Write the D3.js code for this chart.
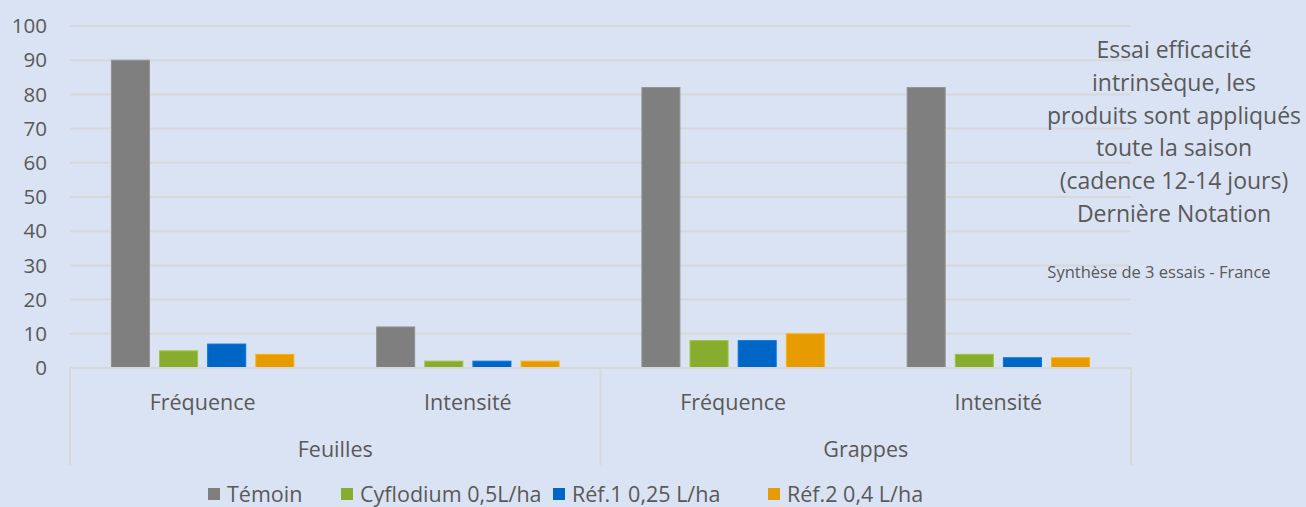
<!DOCTYPE html>
<html lang="fr">
<head>
  <meta charset="UTF-8" />
  <title>Essai efficacité intrinsèque</title>
  <script src="https://d3js.org/d3.v7.min.js"></script>
  <style>
    html, body { margin: 0; padding: 0; background: #dae3f3; }
    svg { display: block; font-family: "Open Sans", sans-serif; }
    .txt { fill: #595959; }
  </style>
</head>
<body>
  <div id="chart"></div>

  <script>
    // Données
    const groupes = ["Feuilles", "Grappes"];
    const sousCategories = ["Fréquence", "Intensité"];
    const series = ["Témoin", "Cyflodium 0,5L/ha", "Réf.1 0,25 L/ha", "Réf.2 0,4 L/ha"];
    const couleurs = ["#7f7f7f", "#88ac2d", "#0066c6", "#e69b00"];
    // une ligne par série, dans l'ordre : Feuilles/Fréquence, Feuilles/Intensité, Grappes/Fréquence, Grappes/Intensité
    const temoin = [90, 12, 82, 82];
    const cyflodium = [5, 2, 8, 4];
    const ref1 = [7, 2, 8, 3];
    const ref2 = [4, 2, 10, 3];
    const valeurs = [temoin, cyflodium, ref1, ref2];
    const ticksY = [0, 10, 20, 30, 40, 50, 60, 70, 80, 90, 100];

    const annotation = [
      "Essai efficacité",
      "intrinsèque, les",
      "produits sont appliqués",
      "toute la saison",
      "(cadence 12-14 jours)",
      "Dernière Notation"
    ];
    const sousAnnotation = "Synthèse de 3 essais - France";

    const width = 1306, height = 507;
    const margin = { left: 70, right: 1131, top: 26, bottom: 368 };

    const svg = d3.select("#chart").append("svg")
      .attr("width", width)
      .attr("height", height);

    // clés des 4 colonnes
    const colonnes = [];
    groupes.forEach(g => sousCategories.forEach(s => colonnes.push(g + "|" + s)));

    const y = d3.scaleLinear().domain([0, 100]).range([margin.bottom, margin.top]);
    const x0 = d3.scaleBand().domain(colonnes).range([margin.left, margin.right]);
    const x1 = d3.scaleBand().domain(series)
      .range([0, x0.bandwidth()])
      .paddingInner(0.21)
      .paddingOuter(0.86);
    const xg = d3.scaleBand().domain(groupes).range([margin.left, margin.right]);

    // Grille
    svg.append("g").selectAll("line")
      .data(ticksY)
      .enter().append("line")
      .attr("x1", margin.left).attr("x2", margin.right)
      .attr("y1", d => y(d)).attr("y2", d => y(d))
      .attr("stroke", "#d6d8dc")
      .attr("stroke-width", 2);

    // Labels Y
    svg.append("g").selectAll("text")
      .data(ticksY)
      .enter().append("text")
      .attr("class", "txt")
      .attr("x", 47)
      .attr("y", d => y(d))
      .attr("dy", "0.35em")
      .attr("text-anchor", "end")
      .style("font-size", "20.5px")
      .text(d => d);

    // Barres
    const barres = [];
    series.forEach((s, i) => {
      colonnes.forEach((c, j) => barres.push({ serie: s, col: c, value: valeurs[i][j], color: couleurs[i] }));
    });

    svg.append("g").selectAll("rect")
      .data(barres)
      .enter().append("rect")
      .attr("x", d => x0(d.col) + x1(d.serie))
      .attr("y", d => y(d.value))
      .attr("width", x1.bandwidth())
      .attr("height", d => y(0) - y(d.value))
      .attr("fill", d => d.color)
      .attr("stroke", d => d3.color(d.color).brighter(0.4))
      .attr("stroke-width", 1);

    // Axe catégories (multi-niveaux)
    const axe = svg.append("g").attr("stroke", "#d6d8dc").attr("stroke-width", 2);
    axe.append("line")
      .attr("x1", margin.left).attr("x2", margin.right)
      .attr("y1", margin.bottom).attr("y2", margin.bottom);
    const separateurs = groupes.map(g => xg(g)).concat([margin.right]);
    axe.selectAll("line.sep")
      .data(separateurs)
      .enter().append("line")
      .attr("class", "sep")
      .attr("x1", d => d).attr("x2", d => d)
      .attr("y1", margin.bottom).attr("y2", 465);

    svg.append("g").selectAll("text")
      .data(colonnes)
      .enter().append("text")
      .attr("class", "txt")
      .attr("x", d => x0(d) + x0.bandwidth() / 2)
      .attr("y", 402)
      .attr("dy", "0.35em")
      .attr("text-anchor", "middle")
      .style("font-size", "21.5px")
      .text(d => d.split("|")[1]);

    svg.append("g").selectAll("text")
      .data(groupes)
      .enter().append("text")
      .attr("class", "txt")
      .attr("x", d => xg(d) + xg.bandwidth() / 2)
      .attr("y", 449)
      .attr("dy", "0.35em")
      .attr("text-anchor", "middle")
      .style("font-size", "21.5px")
      .text(d => d);

    // Légende
    const legendePos = [208, 341, 553, 768];
    const legende = svg.append("g");
    series.forEach((s, i) => {
      const g = legende.append("g").attr("transform", `translate(${legendePos[i]}, 494)`);
      g.append("rect")
        .attr("x", 0).attr("y", -6)
        .attr("width", 12).attr("height", 12)
        .attr("fill", couleurs[i]);
      g.append("text")
        .attr("class", "txt")
        .attr("x", 19)
        .attr("dy", "0.35em")
        .style("font-size", "21.5px")
        .text(s);
    });

    // Annotation à droite
    svg.append("g").selectAll("text")
      .data(annotation)
      .enter().append("text")
      .attr("class", "txt")
      .attr("x", 1174)
      .attr("y", (d, i) => 50 + i * 32.8)
      .attr("dy", "0.35em")
      .attr("text-anchor", "middle")
      .style("font-size", "23px")
      .text(d => d);

    svg.append("text")
      .attr("class", "txt")
      .attr("x", 1159)
      .attr("y", 272)
      .attr("dy", "0.35em")
      .attr("text-anchor", "middle")
      .style("font-size", "16.5px")
      .text(sousAnnotation);
  </script>
</body>
</html>
